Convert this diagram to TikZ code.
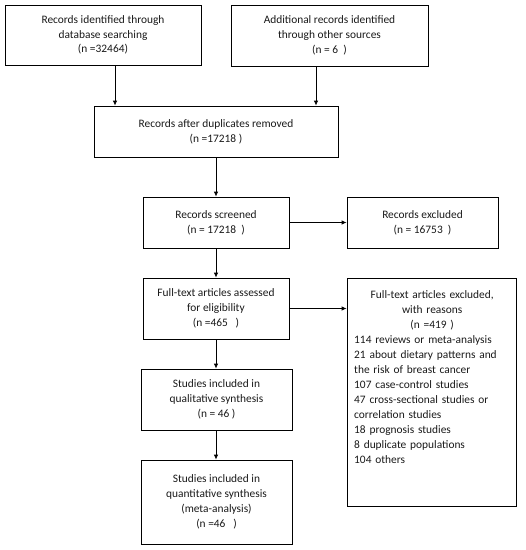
\documentclass[tikz,border=0pt]{standalone}
\usepackage{fontspec}
\setmainfont{Carlito}
\usetikzlibrary{arrows.meta}
\tikzset{
  box/.style={draw, line width=0.8pt, align=center, inner sep=2pt, text=black!90, font=\fontsize{11.4}{14.8}\selectfont},
  arr/.style={-{Latex[length=5pt,width=4.5pt]}, line width=0.8pt},
}

\begin{document}
\begin{tikzpicture}[x=1pt,y=-1pt]
  \useasboundingbox (0,0) rectangle (526,550);
  % identification
  \node[box,minimum width=196pt,minimum height=60pt] (db) at (103,35) {Records identified through\\database searching\\(n =32464)};
  \node[box,minimum width=197pt,minimum height=61pt] (other) at (329.5,35.5) {Additional records identified\\through other sources\\(n = 6~~)};
  \node[box,minimum width=244pt,minimum height=51pt] (dup) at (216,131.5) {Records after duplicates removed\\(n =17218 )};
  % screening
  \node[box,minimum width=146pt,minimum height=51pt] (screen) at (216,222.5) {Records screened\\(n = 17218~~)};
  \node[box,minimum width=151pt,minimum height=51pt] (excl) at (422.5,222.5) {Records excluded\\(n = 16753~~)};
  % eligibility
  \node[box,minimum width=146pt,minimum height=61pt] (full) at (216,308.5) {Full-text articles assessed\\for eligibility\\(n =465~~~)};
  \node[box,minimum width=169pt,minimum height=228pt] (reasons) at (431.5,392) {};
  \node[text=black!90,font=\fontsize{11.4}{15}\selectfont,text width=156pt,inner sep=0pt,align=left,anchor=north west] (reasonstext) at (354,290)
    {{\centering Full-text articles excluded,\\ with reasons\\ (n =419 )\par}
     114 reviews or meta-analysis\\
     21 about dietary patterns and\\
     the risk of breast cancer\\
     107 case-control studies\\
     47 cross-sectional studies or\\
     correlation studies\\
     18 prognosis studies\\
     8 duplicate populations\\
     104 others};
  % included
  \node[box,minimum width=151pt,minimum height=61pt] (qual) at (216.5,399.5) {Studies included in\\qualitative synthesis\\(n = 46 )};
  \node[box,minimum width=151pt,minimum height=84pt] (quant) at (216.5,502) {Studies included in\\quantitative synthesis\\(meta-analysis)\\(n =46~~~)};
  % arrows
  \draw[arr] ([xshift=12pt]db.south) -- ([xshift=12pt]db.south |- dup.north);
  \draw[arr] ([xshift=-13.5pt]other.south) -- ([xshift=-13.5pt]other.south |- dup.north);
  \draw[arr] (dup) -- (screen);
  \draw[arr] (screen) -- (excl);
  \draw[arr] (screen) -- (full);
  \draw[arr] (full.east) -- (full.east -| reasons.west);
  \draw[arr] (full) -- (full |- qual.north);
  \draw[arr] (qual.south -| full) -- (full |- quant.north);
\end{tikzpicture}
\end{document}
